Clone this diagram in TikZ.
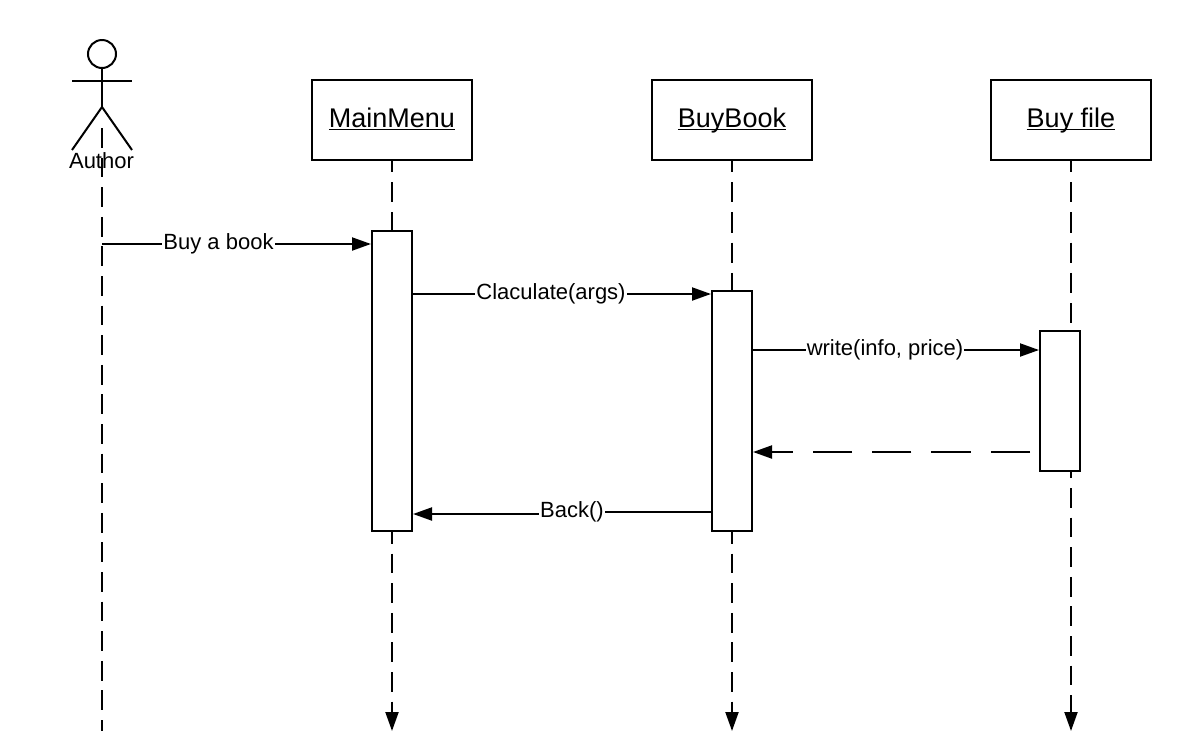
\documentclass[tikz,border=0pt]{standalone}
\usepackage{fontspec}
\setmainfont{Liberation Sans}
\usetikzlibrary{arrows.meta, positioning, calc}
\newcommand{\headlabel}[1]{\setbox0=\hbox{#1}\rlap{\rule[-3.2pt]{\wd0}{1.7pt}}\box0}
\tikzset{
    headbox/.style={
        rectangle,
        draw=black,
        fill=white,
        line width=2pt,
        outer sep=0pt,
        minimum width=160pt,
        minimum height=80pt,
        text height=20pt,
        text depth=6pt,
        align=center,
        font=\fontsize{27}{32}\selectfont
    },
    actbox/.style={
        rectangle,
        draw=black,
        fill=white,
        line width=2pt,
        outer sep=0pt,
        minimum width=40pt,
        minimum height=#1
    },
    lifeline/.style={
        line width=2pt,
        dash pattern=on 19.7pt off 9.9pt
    },
    toplife/.style={
        line width=2pt,
        dash pattern=on 20.2pt off 10pt,
        dash phase=8pt
    },
    endtip/.style={
        -{Triangle[length=19pt,width=13pt]}
    },
    msg/.style={
        endtip,
        line width=2pt,
        shorten >=1pt
    },
    retmsg/.style={
        msg,
        dash pattern=on 39.5pt off 19.8pt,
        shorten <=10pt
    }
}

\begin{document}
\begin{tikzpicture}[
        x=1pt, y=-1pt,
        limb/.style={line width=2pt},
        lbl/.style={font=\fontsize{22}{26}\selectfont, fill=white, inner sep=1pt},
        txt/.style={font=\fontsize{22}{26}\selectfont, inner sep=0pt}
    ]
        \useasboundingbox (0,0) rectangle (1192,740);
        % Stick figure on the left, three head boxes along the top.
        \node[circle, draw, line width=2pt, minimum size=28pt, inner sep=0pt, outer sep=0pt] (authorhead) at (102,54) {};
        \coordinate (hip) at (102,107);
        \coordinate (armleft) at (72,81);
        \coordinate (armright) at (132,81);
        \coordinate (legleft) at (72,150);
        \coordinate (legright) at (132,150);
        \coordinate (authortop) at (102,128);
        \coordinate (authorbot) at (102,731);
        \coordinate (authorcall) at (102,244);
        \node[headbox] (mainhead) at (392,120) {\headlabel{MainMenu}};
        \node[headbox] (buyhead)  at (732,120) {\headlabel{BuyBook}};
        \node[headbox] (filehead) at (1071,120) {\headlabel{Buy file}};
        % Activation bars; the last one sits off its lifeline.
        \node[actbox=300pt] (mainact) at (392,381) {};
        \node[actbox=240pt] (buyact)  at (732,411) {};
        \node[actbox=140pt] (fileact) at (1060,401) {};
        \coordinate (mainend) at (392,731);
        \coordinate (buyend)  at (732,731);
        \coordinate (fileend) at (1071,731);

        \draw[limb] (authorhead.south) -- (hip);
        \draw[limb] (armleft) -- (armright);
        \draw[limb] (legleft) -- (hip) -- (legright);
        \draw[lifeline] (authortop) -- (authorbot);
        \node[txt] (author) at (101.5,160.5) {Author};

        \draw[toplife] (mainhead.south) -- (mainact.north);
        \draw[toplife] (buyhead.south) -- (buyact.north);
        \draw[toplife] (filehead.south) -- (filehead.south |- fileact.north);
        \draw[lifeline, dash phase=7pt, endtip] (mainact.south) -- (mainend);
        \draw[lifeline, dash phase=7pt, endtip] (buyact.south) -- (buyend);
        \draw[lifeline, dash phase=12.6pt, endtip] (filehead.south |- fileact.south) -- (fileend);

        % Messages, labels on top of the lines.
        \draw[msg] (authorcall) -- ([yshift=-13pt]mainact.north west);
        \node[lbl] (buylbl) at (218.5,244) {Buy a book};
        \draw[msg] ([yshift=-63pt]mainact.north east) -- ([yshift=-3pt]buyact.north west);
        \node[lbl] (calclbl) at (551,294) {Claculate(args)};
        \draw[msg] ([yshift=-59pt]buyact.north east) -- ([yshift=-19pt]fileact.north west);
        \node[lbl] (writelbl) at (885,350) {write(info, price)};
        \draw[retmsg] ([yshift=-121pt]fileact.north west) -- ([yshift=-161pt]buyact.north east);
        \draw[msg] ([yshift=19pt]buyact.south west) -- (572,512) -- (572,514) -- ([yshift=17pt]mainact.south east);
        \node[lbl] (backlbl) at (572,512) {Back()};
    \end{tikzpicture}
\end{document}
